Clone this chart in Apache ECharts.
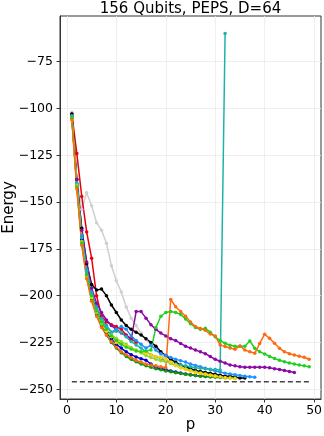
<!DOCTYPE html>
<html lang="en">
  <head>
    <meta charset="UTF-8" />
    <title>156 Qubits, PEPS, D=64</title>
    <style>
      html,
      body {
        margin: 0;
        padding: 0;
        background: #fff;
      }
      #chart {
        width: 324px;
        height: 436px;
      }
    </style>
  </head>
  <body>
    <div id="chart"></div>
    <script src="https://cdn.jsdelivr.net/npm/echarts@6/dist/echarts.min.js"></script>
    <script>
      // energy per step p (p starts at 1)
      const gray = [-102, -138, -154, -145, -152, -161, -165, -172, -184, -192, -198, -206, -212, -216, -220, -223.5, -226, -229, -231.5, -234, -236, -237.5, -238.5];
      const red = [-103, -124, -147, -166, -180, -200, -211, -214, -215.5, -216.5, -218, -221, -223, -225];
      const black = [-103, -138, -164, -183, -194, -197, -196.5, -200, -205, -209, -213, -216, -218, -219.5, -221, -223, -225, -227, -230, -232, -234, -235.5, -237, -238, -239, -240, -240.5, -241, -241.5, -242, -242.5, -243, -243, -243.5, -244, -244];
      const purple = [-104, -138, -165, -182, -196, -204, -209, -213, -216, -218, -220, -221.5, -223.5, -208.5, -208.5, -212, -215.5, -218, -220, -221.5, -223, -224, -225.5, -227, -228, -229, -230, -231, -232.5, -234, -235, -236, -237, -237.5, -238, -238.3, -238.3, -238.3, -238.3, -238.3, -238.5, -239, -239.5, -240, -240.5, -241];
      const green = [-105, -142, -172, -189, -200, -208, -214, -218, -221.5, -224, -226, -227.5, -228.5, -229.5, -230, -229.5, -229, -217, -211, -209, -208.5, -209, -210, -212.5, -215, -217, -218, -217.4, -219.5, -222, -224, -225.4, -226.5, -227, -227, -227, -224.2, -228.1, -230, -231.1, -232.5, -233.5, -234.5, -235.3, -236, -236.5, -237, -237.5, -238];
      const orangered = [-106, -143, -173, -191, -203, -211, -217, -221, -224.5, -227.5, -230, -231.5, -233, -234.5, -235.5, -236.5, -237, -237.5, -238, -238.5, -202, -205.9, -208.5, -211, -214, -216.5, -217.5, -218.5, -220.5, -221.5, -226.3, -227.2, -228, -228.6, -226.9, -229, -230, -230.8, -225.5, -220.6, -222.8, -225.4, -228.1, -229.9, -231, -231.7, -232.3, -232.9, -234];
      const teal = [-104, -140, -169, -187, -199, -207, -212.5, -216.5, -219.5, -219, -219.5, -222, -224.5, -226.3, -228, -230, -231.5, -232.6, -233.5, -235, -235.8, -236.5, -237, -237.5, -238, -238.5, -238.8, -239, -239.3, -239.5, -239.7, -60];
      const dodger = [-104, -140, -168, -186, -198, -206, -212, -216, -219.5, -218, -216.5, -218, -221.5, -224, -226, -228, -226.5, -229, -231, -232, -233, -234, -234.7, -235.5, -236.5, -237.3, -238, -238.8, -239.5, -240.2, -240.8, -241.4, -241.9, -242.3, -242.7, -243, -243.3, -243.6];
      const gold = [-106, -142, -172, -190, -201, -208, -214, -219, -222, -225, -226, -227, -228.5, -229.5, -230, -230.8, -231.5, -232.5, -233, -234, -235.5, -237, -238.5, -239.5, -240.3, -241, -241.5, -242, -242.5, -243, -243.3, -243.7, -244, -244.2];
      const yellowgreen = [-105, -141, -171, -189, -201, -209, -215, -219, -221, -222.8, -224.5, -226, -227.8, -229, -230.5, -232, -233, -234, -234.8, -235.3, -236.2, -237.2, -238.2, -239, -240, -240.8, -241.3, -241.8, -242.4, -242.8];
      const blue = [-105, -141, -170, -189, -201, -209, -215, -219.5, -223, -226, -228, -230, -231.5, -232.7, -233.7, -234.5, -236.5, -238.5, -239, -239.5, -240.2, -240.8, -241.3, -241.8, -242.2, -242.6, -242.9, -243.2];
      const darkgreen = [-105, -141, -171, -190, -202, -210, -216.5, -221, -225, -228, -230.5, -232.5, -234, -235.3, -236.5, -237.5, -238.3, -239, -239.6, -240.2, -240.7, -241.2, -241.6, -242, -242.4, -242.7, -243, -243.2, -243.4, -243.6, -243.7, -243.8, -243.9, -244];
      // reference (dashed) energy, drawn from p=1 to p=49
      const refP = [1, 49];
      const refE = [-246, -246];

      const xTicks = [0, 10, 20, 30, 40, 50];
      const yTicks = [-250, -225, -200, -175, -150, -125, -100, -75];

      // drawing order: later runs end up on top
      const runs = [
        { data: gray, color: "#cfcfcf" },
        { data: red, color: "#e8000b" },
        { data: black, color: "#000000" },
        { data: purple, color: "#8b0aa5" },
        { data: blue, color: "#0000cd" },
        { data: darkgreen, color: "#12960f" },
        { data: dodger, color: "#1e90ff" },
        { data: teal, color: "#20b2aa" },
        { data: yellowgreen, color: "#9bd62a" },
        { data: gold, color: "#ffd000" },
        { data: green, color: "#1fd11f" },
        { data: orangered, color: "#ff6a10" },
      ];

      const minus = (v) => String(v).replace("-", "\u2212");

      const series = runs.map((r) => ({
        type: "line",
        data: r.data.map((v, i) => [i + 1, v]),
        symbol: "circle",
        symbolSize: 3.5,
        color: r.color,
        lineStyle: { width: 1.5, color: r.color },
        itemStyle: { color: r.color },
        silent: true,
      }));
      series.push({
        type: "line",
        data: refP.map((p, i) => [p, refE[i]]),
        symbol: "none",
        lineStyle: { width: 1.5, color: "#444", type: [5, 3] },
        silent: true,
      });

      const chart = echarts.init(document.getElementById("chart"));
      chart.setOption({
        animation: false,
        grid: {
          left: 60,
          top: 16,
          right: 3,
          bottom: 37,
          outerBoundsMode: "none",
          containLabel: false,
          show: true,
          borderColor: "#333",
          borderWidth: 1,
          backgroundColor: "transparent",
        },
        graphic: [
          {
            type: "text",
            x: 190.5,
            y: 2,
            style: {
              text: "156 Qubits, PEPS, D=64",
              font: "15px DejaVu Sans",
              fill: "#000",
              textAlign: "center",
              textVerticalAlign: "top",
            },
          },
        ],
        xAxis: {
          type: "value",
          min: -1.4,
          max: 51.4,
          name: "p",
          nameLocation: "middle",
          nameGap: 19,
          nameMoveOverlap: false,
          nameTextStyle: { fontFamily: "DejaVu Sans", fontSize: 15, color: "#000" },
          axisLine: { show: true, onZero: false, lineStyle: { color: "#333" } },
          axisTick: { show: true, customValues: xTicks, length: 3.5, lineStyle: { color: "#333" } },
          axisLabel: {
            customValues: xTicks,
            fontFamily: "DejaVu Sans",
            fontSize: 12.5,
            color: "#000",
            margin: 5,
          },
          splitLine: { show: true, lineStyle: { color: "#ebebeb", width: 0.8 } },
        },
        yAxis: {
          type: "value",
          min: -255.2,
          max: -50.6,
          name: "Energy",
          nameLocation: "middle",
          nameGap: 43,
          nameMoveOverlap: false,
          nameTextStyle: { fontFamily: "DejaVu Sans", fontSize: 15, color: "#000" },
          axisLine: { show: true, onZero: false, lineStyle: { color: "#333" } },
          axisTick: { show: true, customValues: yTicks, length: 3.5, lineStyle: { color: "#333" } },
          axisLabel: {
            customValues: yTicks,
            formatter: minus,
            fontFamily: "DejaVu Sans",
            fontSize: 12.5,
            color: "#000",
            margin: 7,
          },
          splitLine: { show: true, lineStyle: { color: "#ebebeb", width: 0.8 } },
        },
        series: series,
      });
    </script>
  </body>
</html>
